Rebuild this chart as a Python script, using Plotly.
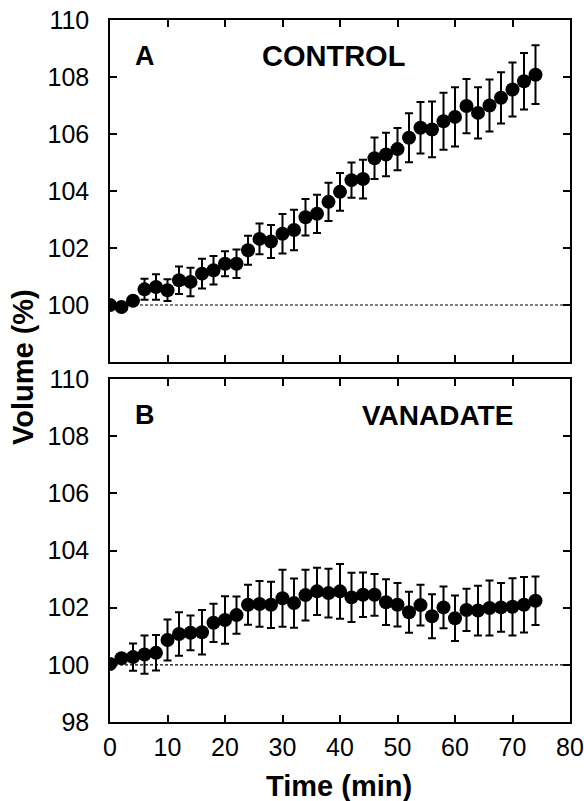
import plotly.graph_objects as go

time_min = [0, 2, 4, 6, 8, 10, 12, 14, 16, 18, 20, 22, 24, 26, 28, 30, 32, 34, 36, 38,
            40, 42, 44, 46, 48, 50, 52, 54, 56, 58, 60, 62, 64, 66, 68, 70, 72, 74]

control_vol = [100.0, 99.93, 100.15, 100.55, 100.63, 100.52, 100.87, 100.81, 101.1, 101.22,
               101.45, 101.45, 101.92, 102.32, 102.23, 102.5, 102.63, 103.08, 103.2, 103.62,
               103.97, 104.38, 104.42, 105.15, 105.28, 105.47, 105.87, 106.22, 106.16, 106.45,
               106.6, 106.98, 106.74, 107.0, 107.27, 107.56, 107.85, 108.08]
control_err = [0.1, 0.1, 0.15, 0.37, 0.45, 0.38, 0.48, 0.5, 0.52, 0.5,
               0.44, 0.5, 0.51, 0.54, 0.58, 0.69, 0.71, 0.64, 0.67, 0.67,
               0.66, 0.62, 0.68, 0.73, 0.76, 0.74, 0.86, 0.9, 0.98, 1.0,
               1.04, 0.95, 0.9, 0.91, 0.9, 0.95, 0.99, 1.03]

vanadate_vol = [100.03, 100.23, 100.27, 100.36, 100.42, 100.87, 101.08, 101.12, 101.14, 101.47,
                101.57, 101.74, 102.1, 102.13, 102.1, 102.33, 102.16, 102.44, 102.57, 102.51,
                102.57, 102.36, 102.45, 102.45, 102.19, 102.1, 101.84, 102.09, 101.7, 102.01,
                101.63, 101.92, 101.9, 101.99, 102.01, 102.03, 102.1, 102.24]
vanadate_err = [0.05, 0.15, 0.48, 0.67, 0.62, 0.72, 0.76, 0.61, 0.78, 0.67,
                0.83, 0.65, 0.7, 0.8, 0.81, 1.0, 0.86, 0.89, 0.83, 0.85,
                0.96, 0.86, 0.78, 0.73, 0.8, 0.76, 0.72, 0.71, 0.77, 0.73,
                0.8, 0.74, 0.87, 0.96, 0.85, 1.0, 0.97, 0.85]

x_ticks = [0, 10, 20, 30, 40, 50, 60, 70, 80]
y_ticks_a = [100, 102, 104, 106, 108, 110]
y_ticks_b = [98, 100, 102, 104, 106, 108, 110]
baseline = 100
panel_labels = ["A", "B"]
panel_titles = ["CONTROL", "VANADATE"]

W, H = 584, 801
ML, MR, MT, MB = 110, 14, 20, 79
PW, PH = W - ML - MR, H - MT - MB

TICKFONT = dict(family="Liberation Sans, Arial, sans-serif", size=25, color="black")
BOLD = "Liberation Sans, Arial, sans-serif"


def px_to_paper(px, py):
    return (px - ML) / PW, (H - MB - py) / PH


fig = go.Figure()

for vals, errs, xa, ya in [(control_vol, control_err, "x", "y"),
                           (vanadate_vol, vanadate_err, "x2", "y2")]:
    fig.add_trace(go.Scatter(
        x=[x_ticks[0], x_ticks[-1]], y=[baseline, baseline], mode="lines",
        line=dict(color="black", width=1.2, dash="3px,2px"),
        xaxis=xa, yaxis=ya, showlegend=False, hoverinfo="skip"))
    fig.add_trace(go.Scatter(
        x=time_min, y=vals, mode="markers",
        marker=dict(color="black", size=14),
        error_y=dict(type="data", array=errs, visible=True, color="black",
                     thickness=2, width=4),
        xaxis=xa, yaxis=ya, showlegend=False))

axis_common = dict(showline=True, linecolor="black", linewidth=1.5, mirror="ticks",
                   ticks="inside", ticklen=7, tickwidth=1.5, tickcolor="black",
                   showgrid=False, zeroline=False, tickfont=TICKFONT, automargin=False)

a_bottom = (H - MB - 362) / PH
b_top = (H - MB - 379) / PH

fig.update_layout(
    width=W, height=H,
    margin=dict(l=ML, r=MR, t=MT, b=MB, autoexpand=False),
    paper_bgcolor="white", plot_bgcolor="white",
    xaxis=dict(domain=[0, 1], range=[0, 80], tickvals=x_ticks, showticklabels=False,
               anchor="y", **axis_common),
    yaxis=dict(domain=[a_bottom, 1], range=[98, 110], tickvals=y_ticks_a,
               ticklabelstandoff=14, anchor="x", **axis_common),
    xaxis2=dict(domain=[0, 1], range=[0, 80], tickvals=x_ticks, anchor="y2",
                ticklabelstandoff=2, **axis_common),
    yaxis2=dict(domain=[0, b_top], range=[98, 110], tickvals=y_ticks_b,
                ticklabelstandoff=14, anchor="x2", **axis_common),
)

ann = []
for i, (yref, lab, title, tx, fs) in enumerate([("y domain", panel_labels[0], panel_titles[0], 38.8, 29),
                                                 ("y2 domain", panel_labels[1], panel_titles[1], 57.0, 28)]):
    xr = "x" if i == 0 else "x2"
    ann.append(dict(x=6.1, y=0.895, xref=xr, yref=yref, text=f"<b>{lab}</b>",
                    xanchor="center", yanchor="middle",
                    showarrow=False, font=dict(family=BOLD, size=27, color="black")))
    ann.append(dict(x=tx, y=0.895, xref=xr, yref=yref, text=f"<b>{title}</b>",
                    xanchor="center", yanchor="middle",
                    showarrow=False, font=dict(family=BOLD, size=fs, color="black")))

vx, vy = px_to_paper(23, 367)
ann.append(dict(x=vx, y=vy, xref="paper", yref="paper", xanchor="center", yanchor="middle",
                text="<b>Volume (%)</b>", textangle=-90, showarrow=False,
                font=dict(family=BOLD, size=29, color="black")))
tx_, ty_ = px_to_paper(339, 786)
ann.append(dict(x=tx_, y=ty_, xref="paper", yref="paper", xanchor="center", yanchor="middle",
                text="<b>Time (min)</b>", showarrow=False,
                font=dict(family=BOLD, size=29, color="black")))
fig.update_layout(annotations=ann)

fig.write_html("out.html", config={"displayModeBar": False},
               post_script="document.body.style.margin='0';document.body.style.overflow='hidden';")
